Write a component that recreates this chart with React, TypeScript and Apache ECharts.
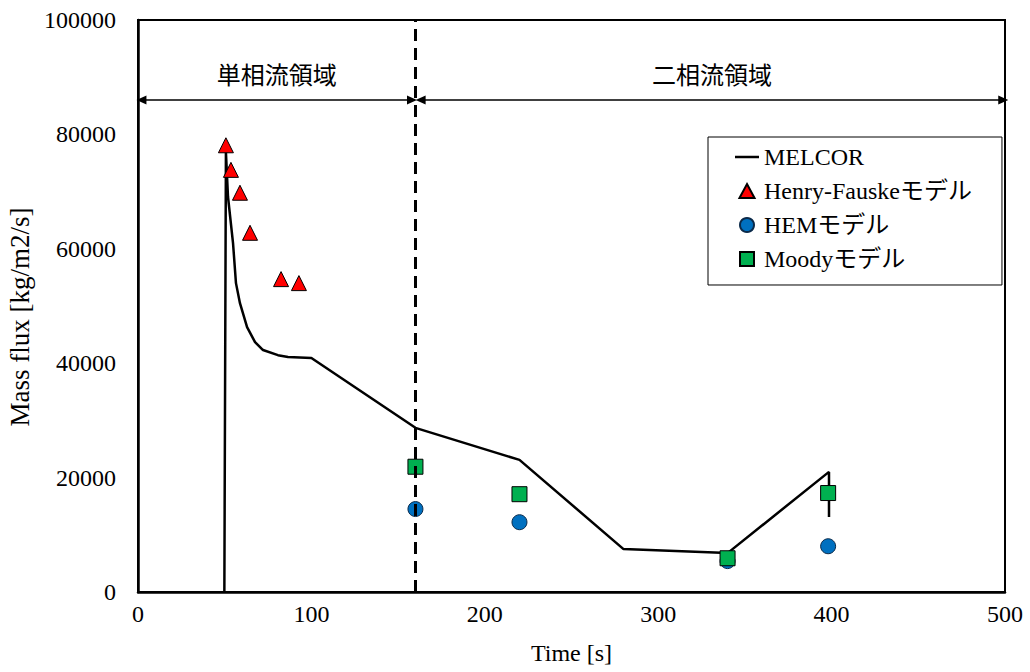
import React, { useEffect, useRef } from "react";
import * as echarts from "echarts";

const xTicks = [0, 100, 200, 300, 400, 500];
const yTicks = [0, 20000, 40000, 60000, 80000, 100000];

const melcorT = [49.8, 50.7, 51.9, 54.8, 56.5, 58.8, 62.9, 67.5, 72.1, 80.7, 86.5, 100, 160, 220, 280, 340, 398.5, 398.5];
const melcorV = [0, 76900, 69100, 61000, 54000, 50500, 46300, 43700, 42300, 41400, 41100, 40900, 28700, 23100, 7500, 6800, 21000, 13100];

const henryT = [50.7, 53.6, 58.8, 64.6, 82.5, 92.8];
const henryV = [78100, 73800, 69800, 62800, 54700, 54000];

const hemT = [160, 220, 340, 398];
const hemV = [14500, 12200, 5400, 8000];

const moodyT = [160, 220, 340, 398];
const moodyV = [21900, 17100, 5900, 17300];

const seriesNames = ["MELCOR", "Henry-Fauskeモデル", "HEMモデル", "Moodyモデル"];

const boundaryT = 160;
const regionLabels = ["単相流領域", "二相流領域"];
const regionArrowY = 86000;
const regionSpans = [
  [2, 158],
  [163, 499],
];

const FONT = "'Liberation Serif', 'Times New Roman', 'Noto Sans CJK JP', serif";

const zip = (a: number[], b: number[]) => a.map((v, i) => [v, b[i]]);

export default function App() {
  const ref = useRef<HTMLDivElement>(null);
  useEffect(() => {
    if (!ref.current) return;
    const chart = echarts.init(ref.current, undefined, { renderer: "svg" });
    chart.setOption({
      animation: false,
      backgroundColor: "#fff",
      textStyle: { fontFamily: FONT, color: "#000" },
      grid: {
        left: 138,
        right: 25,
        top: 20,
        bottom: 80,
        outerBoundsMode: "none",
        containLabel: false,
        show: true,
        borderColor: "#000",
        borderWidth: 2,
        backgroundColor: "transparent",
      },
      legend: {
        orient: "vertical",
        left: 708,
        top: 137,
        padding: [8, 30, 14, 27],
        itemGap: 10,
        itemWidth: 24,
        itemHeight: 14,
        symbolKeepAspect: true,
        borderColor: "#000",
        borderWidth: 1,
        backgroundColor: "#fff",
        textStyle: { fontFamily: FONT, fontSize: 24, color: "#000" },
        data: [
          { name: seriesNames[0], icon: "path://M0,0 L24,0 L24,2.5 L0,2.5 Z", itemStyle: { color: "#000" } },
          { name: seriesNames[1], icon: "path://M7,0 L14,13 L0,13 Z" },
          { name: seriesNames[2], icon: "circle" },
          { name: seriesNames[3], icon: "path://M0,0 L13,0 L13,13 L0,13 Z" },
        ],
      },
      xAxis: {
        type: "value",
        min: xTicks[0],
        max: xTicks[xTicks.length - 1],
        interval: 100,
        name: "Time [s]",
        nameLocation: "middle",
        nameGap: 49,
        nameTextStyle: { fontFamily: FONT, fontSize: 24, color: "#000" },
        axisLine: { lineStyle: { color: "#000", width: 2.5 } },
        axisTick: { show: false },
        splitLine: { show: false },
        axisLabel: { fontFamily: FONT, fontSize: 24, color: "#000", margin: 10 },
      },
      yAxis: {
        type: "value",
        min: yTicks[0],
        max: yTicks[yTicks.length - 1],
        interval: 20000,
        name: "Mass flux [kg/m2/s]",
        nameLocation: "middle",
        nameGap: 102,
        nameTextStyle: { fontFamily: FONT, fontSize: 27, color: "#000", padding: [0, 22, 0, 0] },
        axisLine: { show: true, lineStyle: { color: "#000", width: 2.5 } },
        axisTick: { show: false },
        splitLine: { show: false },
        axisLabel: {
          fontFamily: FONT,
          fontSize: 24,
          color: "#000",
          margin: 22,
          formatter: (v: number) => String(v),
        },
      },
      series: [
        {
          name: seriesNames[0],
          type: "line",
          data: zip(melcorT, melcorV),
          symbol: "none",
          lineStyle: { color: "#000", width: 2.5 },
          itemStyle: { color: "#000" },
          z: 2,
          markLine: {
            silent: true,
            symbol: ["triangle", "triangle"],
            symbolSize: [9, 10],
            lineStyle: { color: "#000", width: 1.5, type: "solid" },
            label: {
              show: true,
              position: "insideMiddleTop",
              distance: 12,
              fontFamily: FONT,
              fontSize: 24,
              color: "#000",
              formatter: (p: any) => p.name,
            },
            data: [
              ...regionSpans.map((s, i) => [
                { name: regionLabels[i], coord: [s[0], regionArrowY] },
                { coord: [s[1], regionArrowY] },
              ]),
              [
                { name: "", coord: [boundaryT, yTicks[0]], symbol: "none" },
                { coord: [boundaryT, yTicks[yTicks.length - 1]], symbol: "none", lineStyle: { width: 3, type: [12, 7] } },
              ],
            ],
          },
        },
        {
          name: seriesNames[1],
          type: "scatter",
          data: zip(henryT, henryV),
          symbol: "triangle",
          symbolSize: 15,
          itemStyle: { color: "#FF0000", borderColor: "#000", borderWidth: 1, opacity: 1 },
          z: 3,
        },
        {
          name: seriesNames[2],
          type: "scatter",
          data: zip(hemT, hemV),
          symbol: "circle",
          symbolSize: 15,
          itemStyle: { color: "#0070C0", borderColor: "#0B2A4A", borderWidth: 1, opacity: 1 },
          z: 3,
        },
        {
          name: seriesNames[3],
          type: "scatter",
          data: zip(moodyT, moodyV),
          symbol: "rect",
          symbolSize: 15,
          itemStyle: { color: "#00B050", borderColor: "#000", borderWidth: 1, opacity: 1 },
          z: 4,
        },
      ],
    });
    return () => chart.dispose();
  }, []);
  return <div ref={ref} style={{ width: 1030, height: 672, position: "absolute", left: 0, top: 0 }} />;
}
